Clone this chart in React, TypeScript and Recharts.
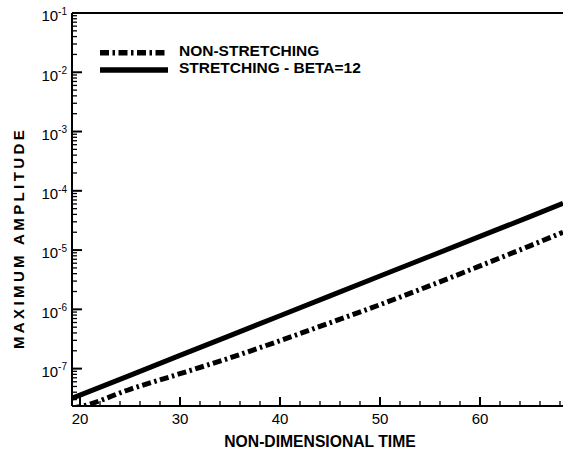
import React from 'react';
import { LineChart, Line, XAxis, YAxis, Legend, ReferenceLine } from 'recharts';

// ---- data ----
const time = [19.2, 20, 25, 30, 35, 40, 45, 50, 55, 60, 65, 68.3];
const nonStretching = [2.14e-8, 2.27e-8, 4.48e-8, 8.2e-8, 1.52e-7, 2.96e-7, 5.92e-7, 1.2e-6, 2.51e-6, 5.4e-6, 1.18e-5, 2.0e-5];
const stretching = [3.16e-8, 3.57e-8, 7.7e-8, 1.67e-7, 3.61e-7, 7.8e-7, 1.69e-6, 3.65e-6, 7.86e-6, 1.7e-5, 3.67e-5, 6.14e-5];

const seriesNames = ['NON-STRETCHING', 'STRETCHING - BETA=12'];
const xTitle = 'NON-DIMENSIONAL TIME';
const yTitle = 'MAXIMUM AMPLITUDE';

const xMajorTicks = [20, 30, 40, 50, 60];
const xMinorTicks = [22, 24, 26, 28, 32, 34, 36, 38, 42, 44, 46, 48, 52, 54, 56, 58, 62, 64, 66, 68];
const yMajorTicks = [1e-7, 1e-6, 1e-5, 1e-4, 1e-3, 1e-2, 1e-1];
const yExponents = ['-7', '-6', '-5', '-4', '-3', '-2', '-1'];
const yMinorDecades = [1e-8, 1e-7, 1e-6, 1e-5, 1e-4, 1e-3, 1e-2];
const yMinorMultipliers = [2, 3, 4, 5, 6, 7, 8, 9];
const xDomain = [19.2, 68.3];
const yDomain = [2.34e-8, 1e-1];

const data = time.map((t, i) => ({ t, nonStretching: nonStretching[i], stretching: stretching[i] }));
const yMinorTicks = yMinorDecades
  .flatMap((d) => yMinorMultipliers.map((m) => m * d))
  .filter((v) => v >= yDomain[0] && v <= yDomain[1]);
const yAllTicks = [...yMinorTicks, ...yMajorTicks].sort((a, b) => a - b);
const xAllTicks = [...xMinorTicks, ...xMajorTicks].sort((a, b) => a - b);

const FONT = '"Liberation Sans", Arial, Helvetica, sans-serif';
const DASH = '9 3.5 2.5 3.5';

const XTick = (props: any) => {
  const { x, y, payload } = props;
  const major = xMajorTicks.indexOf(payload.value) >= 0;
  return (
    <g>
      <line x1={x} x2={x} y1={y} y2={y - (major ? 9 : 5)} stroke="#000" strokeWidth={major ? 2 : 1.3} />
      {major && (
        <text x={x} y={y + 17.5} textAnchor="middle" fontFamily={FONT} fontSize={15} fill="#000">
          {payload.value}
        </text>
      )}
    </g>
  );
};

const YTick = (props: any) => {
  const { x, y, payload } = props;
  const idx = yMajorTicks.findIndex((v) => Math.abs(Math.log10(v) - Math.log10(payload.value)) < 1e-6);
  const major = idx >= 0;
  return (
    <g>
      <line x1={x} x2={x + (major ? 10 : 5)} y1={y} y2={y} stroke="#000" strokeWidth={major ? 2 : 1.3} />
      {major && (
        <text x={x - 5} y={y + 8.3} textAnchor="end" fontFamily={FONT} fontSize={15} fill="#000">
          10
          <tspan fontSize={10} dy={-6.5}>{yExponents[idx]}</tspan>
        </text>
      )}
    </g>
  );
};

const XTitle = () => (
  <text x={320} y={447} textAnchor="middle" fontFamily={FONT} fontSize={15.7} fontWeight="bold" fill="#000">
    {xTitle}
  </text>
);

const YTitle = () => (
  <text
    x={23.5}
    y={238}
    transform="rotate(-90 23.5 238)"
    textAnchor="middle"
    fontFamily={FONT}
    fontSize={15}
    fontWeight="bold"
    letterSpacing={3.4}
    fill="#000"
  >
    {yTitle}
  </text>
);

const LegendContent = () => (
  <svg width={360} height={40} style={{ display: 'block' }}>
    <line x1={0} x2={68} y1={10.7} y2={10.7} stroke="#000" strokeWidth={5.5} strokeDasharray={DASH} />
    <text x={79} y={14.2} fontFamily={FONT} fontSize={15.5} fontWeight="bold" fill="#000">
      {seriesNames[0]}
    </text>
    <line x1={0} x2={68} y1={28} y2={28} stroke="#000" strokeWidth={5.5} />
    <text x={79} y={30.9} fontFamily={FONT} fontSize={15.5} fontWeight="bold" fill="#000">
      {seriesNames[1]}
    </text>
  </svg>
);

export default function App() {
  return (
    <div style={{ position: 'absolute', left: 0, top: 0 }}>
      <LineChart width={563} height={452} data={data} margin={{ top: 13, right: 0, left: 0, bottom: 0 }}>
        <XAxis
          dataKey="t"
          type="number"
          domain={xDomain}
          allowDataOverflow
          ticks={xAllTicks}
          interval={0}
          tick={<XTick />}
          tickLine={false}
          tickSize={0}
          tickMargin={0}
          axisLine={{ stroke: '#000', strokeWidth: 2 }}
          height={46}
          label={<XTitle />}
        />
        <YAxis
          type="number"
          scale="log"
          domain={yDomain}
          allowDataOverflow
          ticks={yAllTicks}
          interval={0}
          tick={<YTick />}
          tickLine={false}
          tickSize={0}
          tickMargin={0}
          axisLine={{ stroke: '#000', strokeWidth: 2 }}
          width={72}
          label={<YTitle />}
        />
        <ReferenceLine y={yDomain[1]} stroke="#000" strokeWidth={2} />
        <Legend
          layout="vertical"
          align="center"
          verticalAlign="middle"
          wrapperStyle={{ position: 'absolute', left: 100, top: 42, width: 360, height: 40 }}
          content={<LegendContent />}
        />
        <Line
          dataKey="nonStretching"
          name={seriesNames[0]}
          type="monotone"
          stroke="#000"
          strokeWidth={5}
          strokeDasharray={DASH}
          dot={false}
          isAnimationActive={false}
        />
        <Line
          dataKey="stretching"
          name={seriesNames[1]}
          type="linear"
          stroke="#000"
          strokeWidth={5}
          dot={false}
          isAnimationActive={false}
        />
      </LineChart>
    </div>
  );
}
